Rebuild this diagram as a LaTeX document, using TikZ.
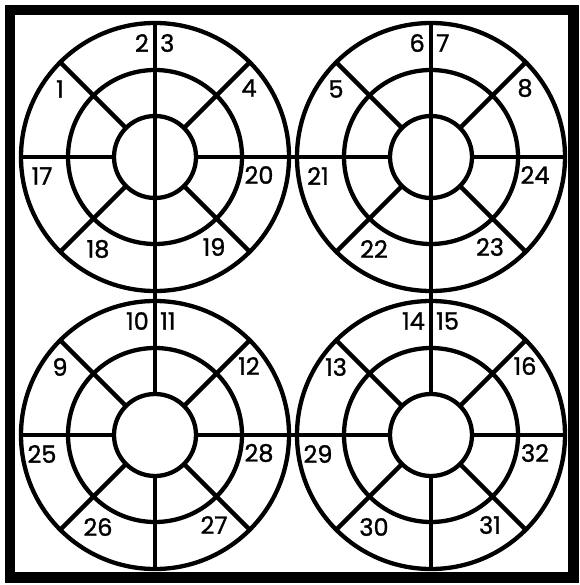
\documentclass[tikz,border=0pt]{standalone}
\usepackage{fontspec}
\setmainfont{Poppins}
\newfontfamily\numfont{Poppins}[FakeBold=1.2]
\usetikzlibrary{calc}
\begin{document}
\begin{tikzpicture}[x=1pt,y=-1pt,
  ring/.style={line width=4.3pt},
  spoke/.style={line width=4.3pt},
  frame/.style={line width=10.5pt},
  num/.style={font=\numfont\fontsize{24}{24}\selectfont, inner sep=0pt}]
\useasboundingbox (0,0) rectangle (579,585);
\fill[white] (0,0) rectangle (579,585);
\draw[frame] (10,10) rectangle (573.5,577.5);
% centres
\coordinate (c1) at (155,157);
\coordinate (c2) at (431,157);
\coordinate (c3) at (155,435);
\coordinate (c4) at (431,435);
\foreach \c in {c1,c2,c3,c4}{
  \draw[ring] (\c) circle[radius=134];
  \draw[ring] (\c) circle[radius=87];
  \draw[ring] (\c) circle[radius=41];
  \foreach \a in {0,45,...,315}
    \draw[spoke] ($(\c)+(\a:41)$) -- ($(\c)+(\a:134)$);
}
% connecting lines across the gaps
\draw[spoke] ($(c1)+(0:133)$) -- ($(c2)+(180:133)$);
\draw[spoke] ($(c3)+(0:133)$) -- ($(c4)+(180:133)$);
\draw[spoke] ($(c1)+(90:-133)$) -- ($(c3)+(90:-133)$);
\draw[spoke] ($(c2)+(90:-133)$) -- ($(c4)+(90:-133)$);
% labels
\newcommand\lab[9]{%
  \node[num,anchor=east] at ($(#1)+(-6,-114)$) {#2};
  \node[num,anchor=west] at ($(#1)+(5,-114)$) {#3};
  \node[num] at ($(#1)+(-95,-68)$) {#4};
  \node[num] at ($(#1)+(94,-69)$) {#5};
  \node[num] at ($(#1)+(-113,19)$) {#6};
  \node[num] at ($(#1)+(104,18)$) {#7};
  \node[num] at ($(#1)+(-57,92)$) {#8};
  \node[num] at ($(#1)+(59,90)$) {#9};}
\lab{c1}{2}{3}{1}{4}{17}{20}{18}{19}
\lab{c2}{6}{7}{5}{8}{21}{24}{22}{23}
\lab{c3}{10}{11}{9}{12}{25}{28}{26}{27}
\lab{c4}{14}{15}{13}{16}{29}{32}{30}{31}
\end{tikzpicture}
\end{document}
